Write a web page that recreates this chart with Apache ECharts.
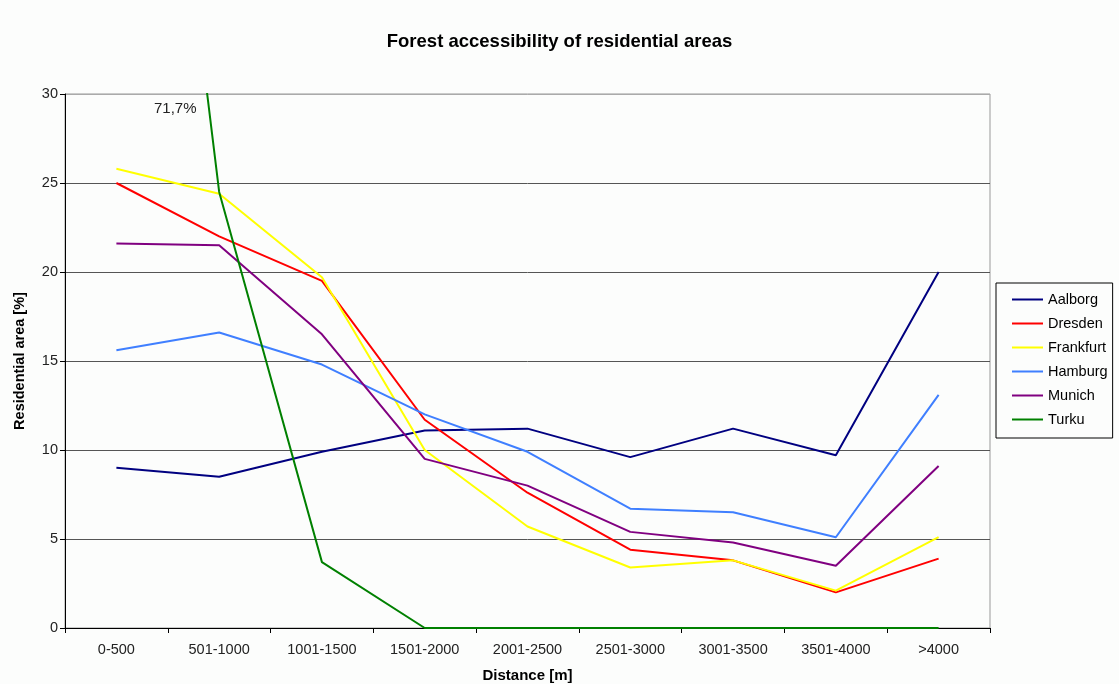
<!DOCTYPE html>
<html>
<head>
<meta charset="utf-8">
<script src="https://cdn.jsdelivr.net/npm/echarts@6/dist/echarts.min.js"></script>
<style>
  html, body { margin: 0; padding: 0; background: #fcfdfc; }
  #chart { width: 1119px; height: 684px; }
</style>
</head>
<body>
<div id="chart"></div>
<script>
// Distance classes to the nearest forest
const categories = ['0-500', '501-1000', '1001-1500', '1501-2000', '2001-2500',
                    '2501-3000', '3001-3500', '3501-4000', '>4000'];

// Share of residential area per distance class [%]
const aalborg   = [9.0, 8.5, 9.9, 11.1, 11.2, 9.6, 11.2, 9.7, 20.0];
const dresden   = [25.0, 22.0, 19.5, 11.7, 7.6, 4.4, 3.8, 2.0, 3.9];
const frankfurt = [25.8, 24.4, 19.7, 10.0, 5.7, 3.4, 3.8, 2.1, 5.1];
const hamburg   = [15.6, 16.6, 14.8, 12.0, 9.9, 6.7, 6.5, 5.1, 13.1];
const munich    = [21.6, 21.5, 16.5, 9.5, 8.0, 5.4, 4.8, 3.5, 9.1];
const turku     = [71.7, 24.5, 3.7, 0, 0, 0, 0, 0, 0];

const yTicks = [0, 5, 10, 15, 20, 25, 30];

const FONT = 'Arial, "Liberation Sans", sans-serif';

const seriesDefs = [
  { name: 'Aalborg',   data: aalborg,   color: '#000080' },
  { name: 'Dresden',   data: dresden,   color: '#ff0000' },
  { name: 'Frankfurt', data: frankfurt, color: '#ffff00' },
  { name: 'Hamburg',   data: hamburg,   color: '#3f7fff' },
  { name: 'Munich',    data: munich,    color: '#800080' },
  { name: 'Turku',     data: turku,     color: '#008000' }
];

const chart = echarts.init(document.getElementById('chart'), null, { renderer: 'canvas' });

chart.setOption({
  backgroundColor: '#fcfdfc',
  animation: false,
  title: {
    text: 'Forest accessibility of residential areas',
    left: 'center',
    top: 27,
    textStyle: { fontFamily: FONT, fontSize: 18.5, fontWeight: 'bold', color: '#000' }
  },
  grid: {
    left: 65, right: 129, top: 94, bottom: 56,
    containLabel: false,
    outerBoundsMode: 'none',
    show: true, borderColor: '#999', borderWidth: 1, backgroundColor: 'transparent'
  },
  legend: {
    orient: 'vertical',
    left: 996, top: 283,
    padding: [9, 5, 11, 16],
    icon: 'rect',
    itemWidth: 31, itemHeight: 2, itemGap: 9,
    borderColor: '#000', borderWidth: 1, borderRadius: 0,
    backgroundColor: '#fcfdfc',
    textStyle: { fontFamily: FONT, fontSize: 14.5, color: '#000' },
    data: seriesDefs.map(s => s.name)
  },
  xAxis: {
    type: 'category',
    data: categories,
    boundaryGap: true,
    name: 'Distance [m]',
    nameLocation: 'middle',
    nameGap: 40,
    nameTextStyle: { fontFamily: FONT, fontSize: 15, fontWeight: 'bold', color: '#000' },
    axisLine: { lineStyle: { color: '#000', width: 1 } },
    axisTick: { show: true, inside: false, length: 5, lineStyle: { color: '#000' } },
    axisLabel: { fontFamily: FONT, fontSize: 14.5, color: '#222', margin: 14, interval: 0 },
    splitLine: { show: false }
  },
  yAxis: {
    type: 'value',
    min: 0, max: 30, interval: 5,
    name: 'Residential area [%]',
    nameLocation: 'middle',
    nameGap: 38,
    nameRotate: 90,
    nameTextStyle: { fontFamily: FONT, fontSize: 14.5, fontWeight: 'bold', color: '#000' },
    axisLine: { show: true, lineStyle: { color: '#000', width: 1 } },
    axisTick: { show: true, inside: false, length: 5, lineStyle: { color: '#000' } },
    axisLabel: {
      fontFamily: FONT, fontSize: 14.5, color: '#222', margin: 7,
      formatter: v => (yTicks.indexOf(v) >= 0 ? String(v) : '')
    },
    splitLine: {
      show: true,
      lineStyle: { color: ['#000', '#555', '#555', '#555', '#555', '#555', '#aaa'], width: 1 }
    }
  },
  series: seriesDefs.map(s => ({
    name: s.name,
    type: 'line',
    data: s.data,
    symbol: 'none',
    clip: true,
    color: s.color,
    lineStyle: { color: s.color, width: 2 },
    emphasis: { disabled: true }
  })),
  graphic: [{
    type: 'text',
    left: 154, top: 101,
    style: { text: '71,7%', font: '15px ' + FONT, fill: '#222' }
  }]
});
</script>
</body>
</html>
